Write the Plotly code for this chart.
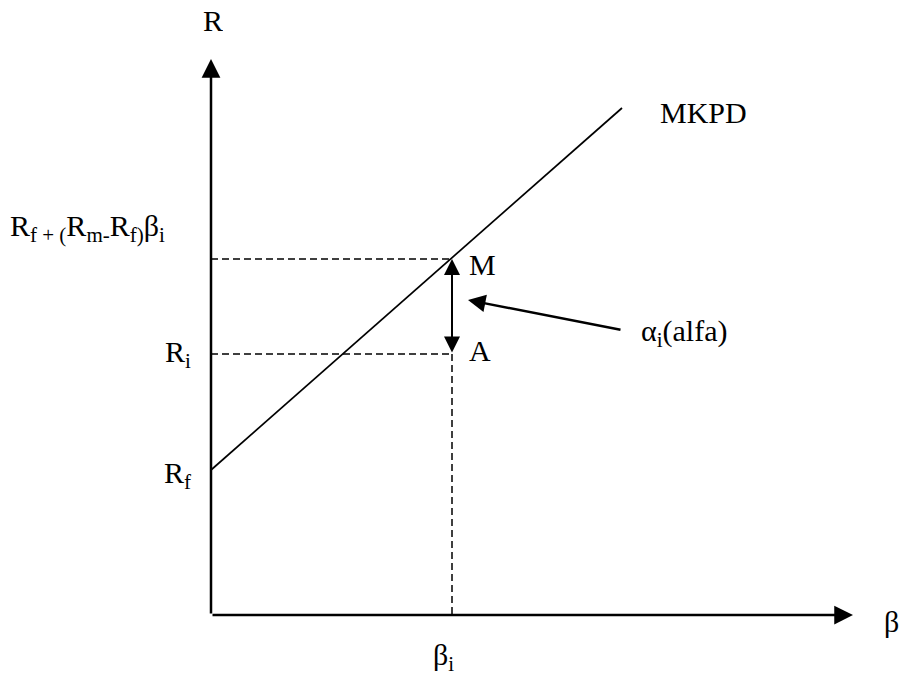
import plotly.graph_objects as go

# Diagram values (data units: origin at axes corner, y upward)
axis_x_end = 642
axis_y_end = 556
beta_i = 241
R_f = 145
R_M = 356
R_i = 261
mkpd_x = [0, 411]
mkpd_y = [145, 507]
alpha_tail = [411, 285]
alpha_tip = [257, 315]

FONT = "Liberation Serif"
FS = 30

fig = go.Figure()

# MKPD line
fig.add_trace(go.Scatter(x=mkpd_x, y=mkpd_y, mode="lines",
                         line=dict(color="black", width=1.7), hoverinfo="skip"))
# dashed guides
dash = "7px,4px"
fig.add_trace(go.Scatter(x=[0, beta_i], y=[R_M, R_M], mode="lines",
                         line=dict(color="black", width=1.5, dash=dash), hoverinfo="skip"))
fig.add_trace(go.Scatter(x=[0, beta_i], y=[R_i, R_i], mode="lines",
                         line=dict(color="black", width=1.5, dash=dash), hoverinfo="skip"))
fig.add_trace(go.Scatter(x=[beta_i, beta_i], y=[R_i, 0], mode="lines",
                         line=dict(color="black", width=1.5, dash=dash), hoverinfo="skip"))

ann = []
# axes arrows
ann.append(dict(x=axis_x_end, y=0, ax=0, ay=0, xref="x", yref="y", axref="x", ayref="y",
                text="", showarrow=True, arrowhead=2, arrowsize=1.5, arrowwidth=2.5,
                arrowcolor="black", standoff=0))
ann.append(dict(x=0, y=axis_y_end, ax=0, ay=0, xref="x", yref="y", axref="x", ayref="y",
                text="", showarrow=True, arrowhead=2, arrowsize=1.5, arrowwidth=2.5,
                arrowcolor="black", standoff=0))
# double arrow M-A
ann.append(dict(x=beta_i, y=R_M, ax=beta_i, ay=R_i, xref="x", yref="y", axref="x", ayref="y",
                text="", showarrow=True, arrowhead=2, startarrowhead=2, arrowside="end+start",
                arrowsize=1.6, startarrowsize=1.6, arrowwidth=2, arrowcolor="black",
                standoff=0, startstandoff=0))
# alpha pointer arrow
ann.append(dict(x=alpha_tip[0], y=alpha_tip[1], ax=alpha_tail[0], ay=alpha_tail[1],
                xref="x", yref="y", axref="x", ayref="y",
                text="", showarrow=True, arrowhead=2, arrowsize=1.4, arrowwidth=2.5,
                arrowcolor="black", standoff=0))


def label(text, x, y, xanchor, height=None):
    d = dict(x=x, y=y, xref="x", yref="y", text=text, showarrow=False,
             xanchor=xanchor, yanchor="middle", valign="middle",
             font=dict(family=FONT, size=FS, color="black"))
    if height:
        d["height"] = height
    ann.append(d)


label("R", 2, 595, "center", height=30)
label("β", 680, -6, "center")
label("R<sub>f + (</sub>R<sub>m-</sub>R<sub>f)</sub>β<sub>i</sub>", -203, 387, "left")
label("R<sub>i</sub>", -18, 261, "right")
label("R<sub>f</sub>", -18, 140, "right")
label("M", 256, 351, "left")
label("A", 256, 265, "left")
label("α<sub>i</sub>(alfa)", 428, 282, "left")
label("MKPD", 447, 503, "left")
label("β<sub>i</sub>", 232, -42, "center")

fig.update_layout(
    width=915, height=682,
    margin=dict(l=0, r=0, t=0, b=0),
    paper_bgcolor="white", plot_bgcolor="white",
    showlegend=False,
    annotations=ann,
    xaxis=dict(range=[-211, 704], visible=False, fixedrange=True),
    yaxis=dict(range=[-67, 615], visible=False, fixedrange=True),
)

fig.write_html("out.html",
               config={"displayModeBar": False},
               post_script="document.body.style.margin='0';document.body.style.overflow='hidden';")
